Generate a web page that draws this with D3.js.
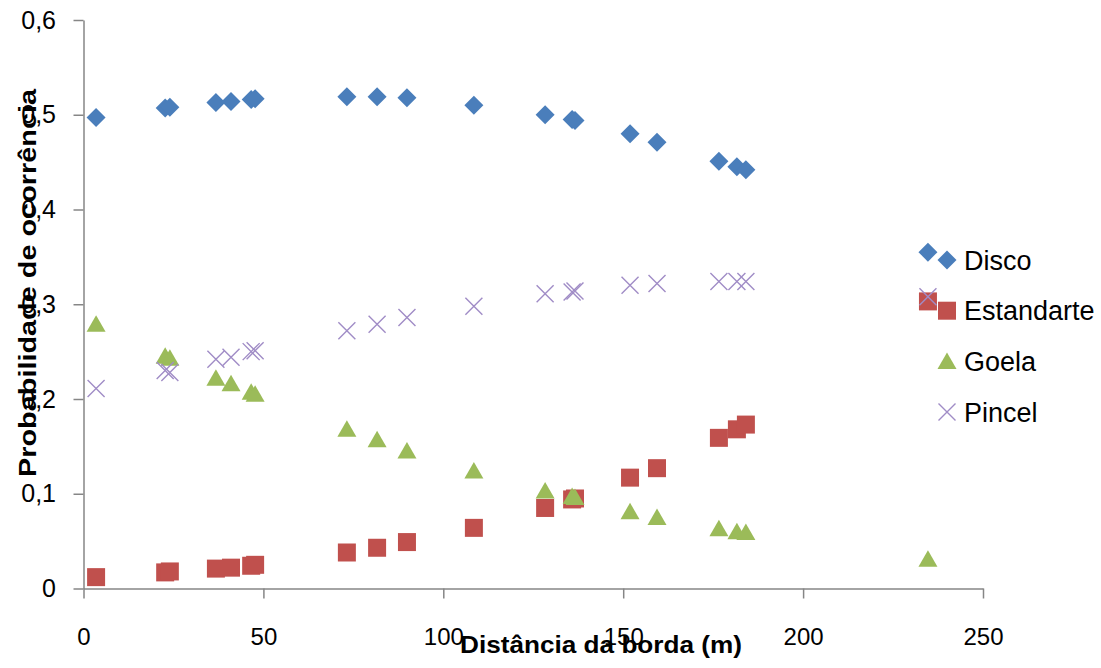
<!DOCTYPE html>
<html>
<head>
<meta charset="utf-8">
<script src="https://cdn.jsdelivr.net/npm/d3@7"></script>
<style>
  html, body { margin: 0; padding: 0; background: #ffffff; }
  svg { display: block; font-family: "Liberation Sans", Arial, sans-serif; }
</style>
</head>
<body>
<svg id="chart" width="1101" height="668"></svg>
<script>
// ---- Data ----
const distances = [3.5, 22.7, 24.0, 36.8, 41.0, 46.6, 47.7, 73.2, 81.6, 89.9, 108.5, 128.3, 135.8, 136.6, 151.9, 159.4, 176.6, 181.6, 184.1, 234.7];
const disco      = [0.497, 0.507, 0.508, 0.513, 0.514, 0.516, 0.517, 0.519, 0.519, 0.518, 0.510, 0.500, 0.495, 0.494, 0.480, 0.471, 0.451, 0.445, 0.442, 0.355];
const estandarte = [0.012, 0.017, 0.018, 0.021, 0.022, 0.024, 0.025, 0.038, 0.043, 0.049, 0.064, 0.085, 0.094, 0.095, 0.117, 0.127, 0.159, 0.168, 0.173, 0.303];
const goela      = [0.279, 0.245, 0.243, 0.222, 0.216, 0.207, 0.205, 0.168, 0.157, 0.145, 0.124, 0.103, 0.097, 0.096, 0.081, 0.075, 0.063, 0.060, 0.059, 0.031];
const pincel     = [0.211, 0.230, 0.228, 0.242, 0.244, 0.250, 0.251, 0.272, 0.279, 0.286, 0.298, 0.311, 0.313, 0.314, 0.320, 0.322, 0.324, 0.324, 0.324, 0.308];
const seriesNames = ["Disco", "Estandarte", "Goela", "Pincel"];
const xTicks = [0, 50, 100, 150, 200, 250];
const yTicks = [0, 0.1, 0.2, 0.3, 0.4, 0.5, 0.6];
const yTickLabels = ["0", "0,1", "0,2", "0,3", "0,4", "0,5", "0,6"];
const xTitle = "Distância da borda (m)";
const yTitle = "Probabilidade de ocorrência";

// ---- Styles ----
const seriesStyle = {
  "Disco":      { shape: "diamond",  color: "#4A7EBB" },
  "Estandarte": { shape: "square",   color: "#C0504D" },
  "Goela":      { shape: "triangle", color: "#9BBB59" },
  "Pincel":     { shape: "cross",    color: "#A08CC6" }
};
const axisColor = "#868686";

const svg = d3.select("#chart");
const x = d3.scaleLinear().domain([0, 250]).range([83.5, 983]);
const y = d3.scaleLinear().domain([0, 0.6]).range([588.5, 20]);

// marker path generator
function markerPath(shape) {
  const p = d3.path();
  if (shape === "diamond") {
    const r = 9.5;
    p.moveTo(0, -r); p.lineTo(r, 0); p.lineTo(0, r); p.lineTo(-r, 0); p.closePath();
  } else if (shape === "square") {
    const h = 9;
    p.rect(-h, -h, 2 * h, 2 * h);
  } else if (shape === "triangle") {
    const w = 9.5, t = 9, b = 7.5;
    p.moveTo(0, -t); p.lineTo(w, b); p.lineTo(-w, b); p.closePath();
  } else {
    const a = 8.5;
    p.moveTo(-a, -a); p.lineTo(a, a); p.moveTo(a, -a); p.lineTo(-a, a);
  }
  return p.toString();
}

function drawMarker(g, shape, color) {
  const path = g.append("path").attr("d", markerPath(shape));
  if (shape === "cross") {
    path.attr("fill", "none").attr("stroke", color).attr("stroke-width", 1.4);
  } else {
    path.attr("fill", color);
  }
}

// ---- Axes ----
const yAxis = d3.axisLeft(y)
  .tickValues(yTicks)
  .tickFormat((d, i) => yTickLabels[i])
  .tickSize(10).tickSizeOuter(0).tickPadding(17.5);
const yg = svg.append("g").attr("transform", "translate(83.5,0)").call(yAxis);

const xAxis = d3.axisBottom(x)
  .tickValues(xTicks)
  .tickFormat(d3.format("d"))
  .tickSize(10).tickSizeOuter(0).tickPadding(29.5);
const xg = svg.append("g").attr("transform", "translate(0,588.5)").call(xAxis);

[yg, xg].forEach(g => {
  g.select(".domain").attr("stroke", axisColor).attr("stroke-width", 1.5);
  g.selectAll(".tick line").attr("stroke", axisColor).attr("stroke-width", 1.5);
  g.selectAll(".tick text").attr("fill", "#000")
    .attr("font-family", "'Liberation Sans', Arial, sans-serif");
});
yg.selectAll(".tick text").attr("font-size", 25);
xg.selectAll(".tick text").attr("font-size", 24);

// ---- Series ----
const allSeries = [disco, estandarte, goela, pincel];
seriesNames.forEach((name, si) => {
  const st = seriesStyle[name];
  const pts = distances.map((d, i) => ({ x: d, y: allSeries[si][i] }));
  const g = svg.append("g").attr("class", "series-" + name);
  pts.forEach(pt => {
    const mg = g.append("g").attr("transform", `translate(${x(pt.x)},${y(pt.y)})`);
    drawMarker(mg, st.shape, st.color);
  });
});

// ---- Legend ----
const legend = svg.append("g").attr("transform", "translate(947,260)");
seriesNames.forEach((name, i) => {
  const st = seriesStyle[name];
  const row = legend.append("g").attr("transform", `translate(0,${i * 50.7})`);
  drawMarker(row, st.shape, st.color);
  row.append("text").attr("x", 17).attr("y", 9.5).attr("font-size", 27).attr("fill", "#000").text(name);
});

// ---- Titles ----
svg.append("text")
  .attr("x", 601).attr("y", 653)
  .attr("text-anchor", "middle")
  .attr("font-size", 24).attr("font-weight", "bold").attr("fill", "#000")
  .attr("textLength", 282).attr("lengthAdjust", "spacingAndGlyphs")
  .text(xTitle);

svg.append("text")
  .attr("transform", "translate(36,283) rotate(-90)")
  .attr("text-anchor", "middle")
  .attr("font-size", 24).attr("font-weight", "bold").attr("fill", "#000")
  .attr("textLength", 388).attr("lengthAdjust", "spacingAndGlyphs")
  .text(yTitle);
</script>
</body>
</html>
